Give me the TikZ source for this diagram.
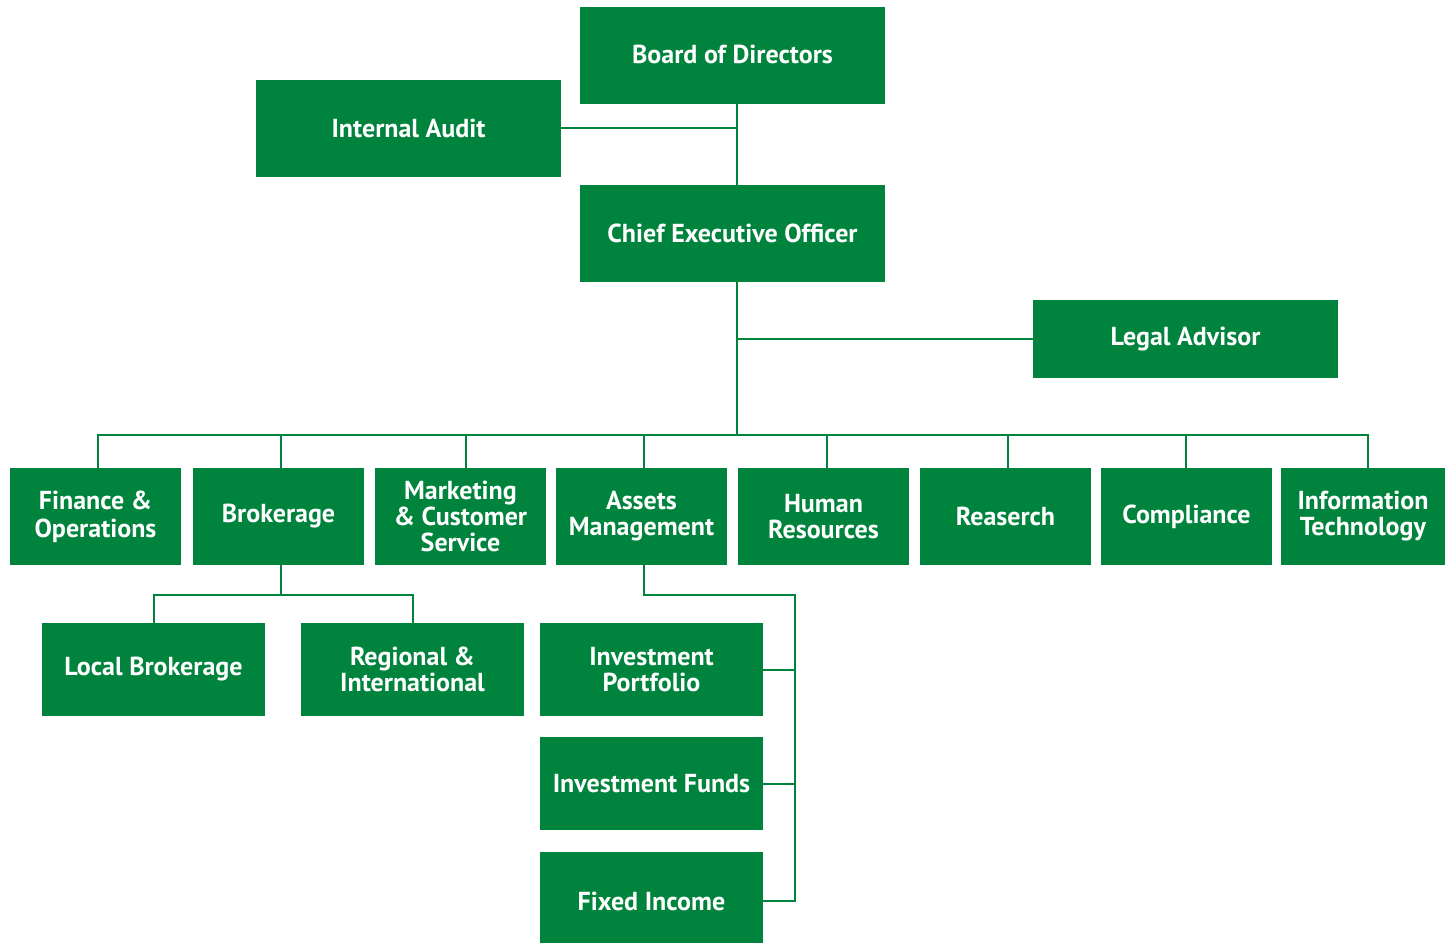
\documentclass[tikz,border=0pt]{standalone}
\usepackage{fontspec}
\setmainfont{PT Sans}
\usepackage{tikz}
\usetikzlibrary{calc,positioning}
\definecolor{orggreen}{HTML}{00843D}

\begin{document}
\begin{tikzpicture}[x=1pt, y=-1pt]
\tikzstyle{unit}=[rectangle, fill=orggreen, text=white, inner sep=0pt, align=center,
                  font=\fontsize{26}{26}\selectfont\bfseries]
\tikzstyle{big}=[unit, minimum width=305pt, minimum height=97pt]
\tikzstyle{dept}=[unit, minimum width=171pt, minimum height=97pt]
\tikzstyle{sub}=[unit, minimum width=223pt, minimum height=93pt]
\tikzstyle{link}=[orggreen, line width=2pt]
\useasboundingbox (0,0) rectangle (1445,942);
% top of the chart
\node[big] (board) at (732.5,55.5) {\raisebox{3pt}{Board of Directors}};
\node[big] (audit) at (408.5,128) {Internal Audit};
\node[big] (ceo) at (732.5,233.5) {Chief Executive Officer};
\node[big, minimum height=78pt] (legal) at (1185.5,339) {Legal Advisor};
% departments
\node[dept] (fin) at (95.5,516.5) {Finance \&\\[2pt]Operations};
\node[dept] (brok) at (278.5,516.5) {Brokerage};
\node[dept] (mkt) at (460.5,516.5) {Marketing\\\& Customer\\Service};
\node[dept] (assets) at (641.5,516.5) {Assets\\Management};
\node[dept] (hr) at (823.5,516.5) {Human\\Resources};
\node[dept] (res) at (1005.5,516.5) {Reaserch};
\node[dept] (comp) at (1186.5,516.5) {Compliance};
\node[dept, minimum width=164pt] (it) at (1363,516.5) {Information\\Technology};
% sub units
\node[sub] (local) at (153.5,669.5) {Local Brokerage};
\node[sub] (regional) at (412.5,669.5) {Regional \&\\International};
\node[sub] (portf) at (651.5,669.5) {Investment\\Portfolio};
\node[sub] (funds) at (651.5,783.5) {Investment Funds};
\node[sub, minimum height=98pt] (fixed) at (651.5,901) {Fixed Income};

\coordinate (trunk) at (737,104);
\coordinate (bus) at (737,435);
\coordinate (brokbus) at (281,595);
\coordinate (assetbus) at (795,595);

\draw[link] (trunk) -- (trunk |- ceo.north);
\draw[link] (audit.east) -- (audit.east -| trunk);
\draw[link] (ceo.south -| trunk) -- (bus);
\draw[link] (legal.west) -- (legal.west -| trunk);
\draw[link] (fin.north -| 98,0) |- (bus) -| (it.north -| 1368,0);
\foreach \i/\j in {brok/281,mkt/466,assets/644,hr/827,res/1008,comp/1186}{\draw[link] (\i.north -| \j,0) -- (bus -| \j,0);}
% brokerage branch
\draw[link] (brok.south -| brokbus) -- (brokbus);
\draw[link] (local.north) |- (brokbus) -| (regional.north);
% assets branch
\draw[link] (assets.south -| 644,0) |- (assetbus) |- (fixed.east);
\foreach \i in {portf,funds}{\draw[link] (\i.east) -- (\i.east -| assetbus);}
\end{tikzpicture}
\end{document}
